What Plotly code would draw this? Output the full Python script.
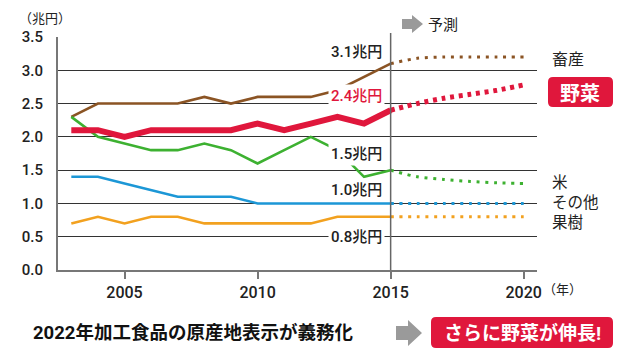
import plotly.graph_objects as go

# ---------------- data ----------------
years = [2003, 2004, 2005, 2006, 2007, 2008, 2009, 2010, 2011, 2012, 2013, 2014, 2015]
fyears = [2015, 2016, 2017, 2018, 2019, 2020]

livestock = [2.3, 2.5, 2.5, 2.5, 2.5, 2.6, 2.5, 2.6, 2.6, 2.6, 2.7, 2.9, 3.1]
livestock_f = [3.1, 3.18, 3.2, 3.2, 3.2, 3.2]
vegetables = [2.1, 2.1, 2.0, 2.1, 2.1, 2.1, 2.1, 2.2, 2.1, 2.2, 2.3, 2.2, 2.4]
vegetables_f = [2.4, 2.5, 2.58, 2.64, 2.7, 2.78]
rice = [2.3, 2.0, 1.9, 1.8, 1.8, 1.9, 1.8, 1.6, 1.8, 2.0, 1.8, 1.4, 1.5]
rice_f = [1.5, 1.4, 1.36, 1.33, 1.31, 1.3]
other = [1.4, 1.4, 1.3, 1.2, 1.1, 1.1, 1.1, 1.0, 1.0, 1.0, 1.0, 1.0, 1.0]
other_f = [1.0, 1.0, 1.0, 1.0, 1.0, 1.0]
fruit = [0.7, 0.8, 0.7, 0.8, 0.8, 0.7, 0.7, 0.7, 0.7, 0.7, 0.8, 0.8, 0.8]
fruit_f = [0.8, 0.8, 0.8, 0.8, 0.8, 0.8]

y_ticks = [0.0, 0.5, 1.0, 1.5, 2.0, 2.5, 3.0, 3.5]
x_ticks = [2005, 2010, 2015, 2020]
value_labels = ["3.1兆円", "2.4兆円", "1.5兆円", "1.0兆円", "0.8兆円"]
series_names = ["畜産", "野菜", "米", "その他", "果樹"]

# ---------------- style ----------------
C_BROWN = "#8b5424"
C_RED = "#e0173c"
C_GREEN = "#3db131"
C_BLUE = "#1c97d6"
C_ORANGE = "#f2a11f"
FONT = "Roboto, 'Noto Sans CJK JP', sans-serif"
JFONT = "'Noto Sans CJK JP', sans-serif"

W, H = 640, 360
L, R, T, B = 58, 103, 37, 90
PW, PH = W - L - R, H - T - B


def px(x):
    return (x - L) / PW


def py(y):
    return (H - B - y) / PH


def rrect(x0, y0, x1, y1, r):
    pts = [
        ("M", (x0 + r, y0)), ("L", (x1 - r, y0)), ("Q", (x1, y0), (x1, y0 + r)),
        ("L", (x1, y1 - r)), ("Q", (x1, y1), (x1 - r, y1)),
        ("L", (x0 + r, y1)), ("Q", (x0, y1), (x0, y1 - r)),
        ("L", (x0, y0 + r)), ("Q", (x0, y0), (x0 + r, y0)),
    ]
    s = ""
    for p in pts:
        s += p[0] + " " + " ".join(f"{px(a):.5f},{py(b):.5f}" for a, b in p[1:]) + " "
    return s + "Z"


def arrow(x0, x1, yc, hh, sh, hx):
    p = [(x0, yc - sh), (hx, yc - sh), (hx, yc - hh), (x1, yc), (hx, yc + hh),
         (hx, yc + sh), (x0, yc + sh)]
    return "M " + " L ".join(f"{px(a):.5f},{py(b):.5f}" for a, b in p) + " Z"


fig = go.Figure()

solid = [(livestock, C_BROWN, 2.6), (rice, C_GREEN, 2.6), (other, C_BLUE, 2.6),
         (fruit, C_ORANGE, 2.6), (vegetables, C_RED, 6)]
for vals, col, w in solid:
    fig.add_trace(go.Scatter(x=years, y=vals, mode="lines",
                             line=dict(color=col, width=w), hoverinfo="skip"))

dotted = [(livestock_f, C_BROWN, 3, "3px,5.7px"), (rice_f, C_GREEN, 3, "3px,5.7px"),
          (other_f, C_BLUE, 3, "3px,5.7px"), (fruit_f, C_ORANGE, 3, "3px,5.7px"),
          (vegetables_f, C_RED, 5, "4px,4.7px")]
for vals, col, w, d in dotted:
    fig.add_trace(go.Scatter(x=fyears, y=vals, mode="lines",
                             line=dict(color=col, width=w, dash=d, shape="spline", smoothing=0.8),
                             hoverinfo="skip"))

ann = []
# inline value labels
lab_y = [3.275, 2.61, 1.74, 1.20, 0.5]
lab_col = ["#222", C_RED, "#222", "#222", "#222"]
for t, yv, c in zip(value_labels, lab_y, lab_col):
    ann.append(dict(x=2014.8, y=yv, xref="x", yref="y", text=t, showarrow=False,
                    xanchor="right", yanchor="middle", bgcolor="white", borderpad=2,
                    font=dict(family=FONT, size=15, color=c, weight=500)))

# right-side series names
ann.append(dict(x=px(550), y=py(58), xref="paper", yref="paper", text=series_names[0],
                showarrow=False, xanchor="left", yanchor="middle",
                font=dict(family=JFONT, size=16, color="#222")))
ann.append(dict(x=px(580), y=py(92.5), xref="paper", yref="paper",
                text="<b>" + series_names[1] + "</b>",
                showarrow=False, xanchor="center", yanchor="middle",
                font=dict(family=JFONT, size=20, color="white")))
ann.append(dict(x=px(550), y=py(200.5), xref="paper", yref="paper",
                text="<br>".join(series_names[2:]), align="left",
                showarrow=False, xanchor="left", yanchor="middle",
                font=dict(family=JFONT, size=15.5, color="#222")))

# axis titles
ann.append(dict(x=px(17), y=py(18), xref="paper", yref="paper", text="（兆円）",
                showarrow=False, xanchor="left", yanchor="middle",
                font=dict(family=JFONT, size=13, color="#222")))
ann.append(dict(x=px(541), y=py(288), xref="paper", yref="paper", text="（年）",
                showarrow=False, xanchor="left", yanchor="middle",
                font=dict(family=JFONT, size=13, color="#222")))
ann.append(dict(x=px(426), y=py(24), xref="paper", yref="paper", text="予測",
                showarrow=False, xanchor="left", yanchor="middle",
                font=dict(family=JFONT, size=15, color="#222")))

# bottom message
ann.append(dict(x=px(31), y=py(333), xref="paper", yref="paper",
                text="<b>2022年加工食品の原産地表示が義務化</b>",
                showarrow=False, xanchor="left", yanchor="middle",
                font=dict(family=FONT, size=18.5, color="#111")))
ann.append(dict(x=px(522), y=py(333), xref="paper", yref="paper",
                text="<b>さらに野菜が伸長!</b>",
                showarrow=False, xanchor="center", yanchor="middle",
                font=dict(family=FONT, size=19, color="white")))

shapes = [
    dict(type="line", xref="x", yref="paper", x0=2015, x1=2015, y0=0, y1=py(33),
         line=dict(color="#666", width=1.5), layer="above"),
    dict(type="path", xref="paper", yref="paper", path=arrow(402, 423, 24, 9, 5, 412),
         fillcolor="#9a9a9a", line=dict(width=0)),
    dict(type="path", xref="paper", yref="paper", path=arrow(396, 422, 333, 13, 7, 408),
         fillcolor="#9a9a9a", line=dict(width=0)),
    dict(type="path", xref="paper", yref="paper", path=rrect(548, 77, 613, 107, 5),
         fillcolor=C_RED, line=dict(width=0)),
    dict(type="path", xref="paper", yref="paper", path=rrect(431, 317, 613, 348, 5),
         fillcolor=C_RED, line=dict(width=0)),
]

fig.update_layout(
    width=W, height=H, margin=dict(l=L, r=R, t=T, b=B),
    paper_bgcolor="white", plot_bgcolor="white", showlegend=False,
    annotations=ann, shapes=shapes,
    xaxis=dict(range=[2002.5, 2020.5], tickvals=x_ticks, ticktext=[str(v) for v in x_ticks],
               showgrid=False, zeroline=False, showline=True, linecolor="#777", linewidth=2,
               ticks="outside", ticklen=7, tickcolor="#777", tickwidth=1.5,
               tickfont=dict(family=FONT, size=16, color="#222", weight=500)),
    yaxis=dict(range=[0, 3.5], tickvals=y_ticks, ticktext=[f"{v:.1f}" for v in y_ticks],
               showgrid=True, gridcolor="#333", gridwidth=1, zeroline=False,
               showline=True, linecolor="#777", linewidth=2, ticks="",
               ticklabelstandoff=10,
               tickfont=dict(family=FONT, size=15, color="#222", weight=500)),
)

fig.write_html("out.html", config={"displayModeBar": False},
               post_script="document.body.style.margin='0';")
